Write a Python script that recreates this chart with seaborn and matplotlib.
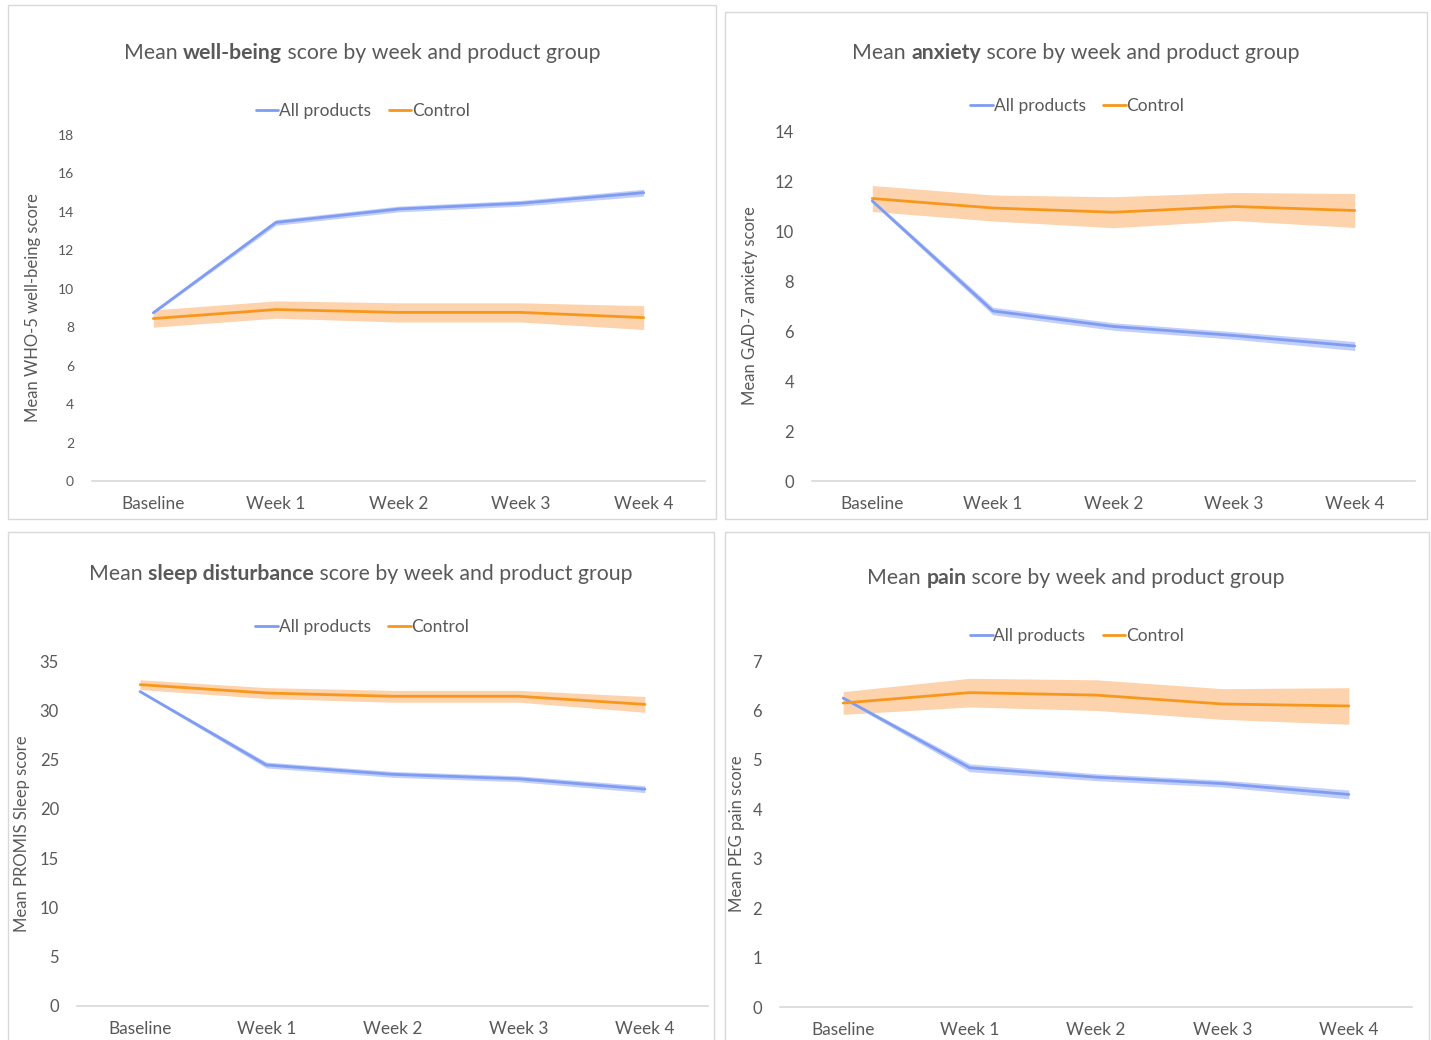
import numpy as np
import pandas as pd
import matplotlib
matplotlib.use("Agg")
import matplotlib.pyplot as plt
import seaborn as sns
from matplotlib.patches import Rectangle

sns.set_theme(style="white")
plt.rcParams['font.family'] = ['Lato', 'DejaVu Sans']

# ---------------- data ----------------
weeks = ["Baseline", "Week 1", "Week 2", "Week 3", "Week 4"]
groups = ["All products", "Control"]

wb_all = [8.75, 13.45, 14.15, 14.45, 15.0]
wb_all_ci = [0.06, 0.15, 0.15, 0.15, 0.18]
wb_ctrl = [8.45, 8.92, 8.77, 8.77, 8.5]
wb_ctrl_ci = [0.45, 0.45, 0.5, 0.5, 0.62]

anx_all = [11.2, 6.8, 6.18, 5.82, 5.4]
anx_all_ci = [0.08, 0.15, 0.15, 0.15, 0.18]
anx_ctrl = [11.3, 10.92, 10.75, 10.98, 10.82]
anx_ctrl_ci = [0.52, 0.52, 0.62, 0.56, 0.68]

sleep_all = [31.9, 24.45, 23.5, 23.05, 22.0]
sleep_all_ci = [0.12, 0.3, 0.3, 0.3, 0.35]
sleep_ctrl = [32.6, 31.75, 31.42, 31.42, 30.6]
sleep_ctrl_ci = [0.5, 0.55, 0.6, 0.6, 0.8]

pain_all = [6.25, 4.84, 4.65, 4.52, 4.3]
pain_all_ci = [0.03, 0.08, 0.07, 0.07, 0.09]
pain_ctrl = [6.15, 6.36, 6.31, 6.13, 6.09]
pain_ctrl_ci = [0.23, 0.29, 0.31, 0.31, 0.37]

panels = [
    dict(title=("Mean ", "well-being", " score by week and product group"),
         ylabel="Mean WHO-5 well-being score",
         all=wb_all, all_ci=wb_all_ci, ctrl=wb_ctrl, ctrl_ci=wb_ctrl_ci,
         ymax=18, ystep=2, tick_fs=10,
         box=(8, 5, 716, 519), ax=(92, 135, 705, 481),
         title_xy=(362, 53), leg=(0.442, 1.07), ylab_x=33),
    dict(title=("Mean ", "anxiety", " score by week and product group"),
         ylabel="Mean GAD-7 anxiety score",
         all=anx_all, all_ci=anx_all_ci, ctrl=anx_ctrl, ctrl_ci=anx_ctrl_ci,
         ymax=14, ystep=2, tick_fs=12,
         box=(725, 12, 1427, 519), ax=(812, 131, 1415, 481),
         title_xy=(1076, 53), leg=(0.44, 1.072), ylab_x=750),
    dict(title=("Mean ", "sleep disturbance", " score by week and product group"),
         ylabel="Mean PROMIS Sleep score",
         all=sleep_all, all_ci=sleep_all_ci, ctrl=sleep_ctrl, ctrl_ci=sleep_ctrl_ci,
         ymax=35, ystep=5, tick_fs=12,
         box=(8, 532, 714, 1045), ax=(77, 661, 708, 1006),
         title_xy=(361, 574), leg=(0.452, 1.099), ylab_x=22),
    dict(title=("Mean ", "pain", " score by week and product group"),
         ylabel="Mean PEG pain score",
         all=pain_all, all_ci=pain_all_ci, ctrl=pain_ctrl, ctrl_ci=pain_ctrl_ci,
         ymax=7, ystep=1, tick_fs=12,
         box=(725, 532, 1429, 1045), ax=(780, 661, 1412, 1007),
         title_xy=(1076, 578), leg=(0.47, 1.073), ylab_x=737),
]

W, H = 1431, 1040
BLUE = "#7f9cf3"
ORANGE = "#f7981c"
TXT = "#595959"

fig = plt.figure(figsize=(W / 100, H / 100), dpi=100)
fig.patch.set_facecolor("white")


def fx(px):
    return px / W


def fy(py):
    return 1 - py / H


renderer = fig.canvas.get_renderer()


def text_width(s, weight, size):
    t1 = fig.text(0, 0, "A" + s + "A", fontsize=size, fontweight=weight)
    t2 = fig.text(0, 0, "AA", fontsize=size, fontweight=weight)
    w = t1.get_window_extent(renderer).width - t2.get_window_extent(renderer).width
    t1.remove()
    t2.remove()
    return w


def rich_title(parts, cx, cy, size=15.3):
    weights = ["normal", "bold", "normal"]
    widths = [text_width(p, w, size) for p, w in zip(parts, weights)]
    total = sum(widths)
    x = cx - total / 2
    for p, w, wd in zip(parts, weights, widths):
        fig.text(fx(x), fy(cy), p, fontsize=size, fontweight=w, color=TXT,
                 ha="left", va="center")
        x += wd


for p in panels:
    # panel frame
    x0, y0, x1, y1 = p["box"]
    fig.patches.append(Rectangle((fx(x0), fy(y1)), fx(x1 - x0), (y1 - y0) / H,
                                 transform=fig.transFigure, fill=False,
                                 edgecolor="#d9d9d9", linewidth=1.0, zorder=0))
    l, t, r, b = p["ax"]
    ax = fig.add_axes([fx(l), fy(b), fx(r - l), (b - t) / H])
    ax.set_facecolor("none")

    df = pd.DataFrame({
        "week": weeks * 2,
        "group": [groups[0]] * len(weeks) + [groups[1]] * len(weeks),
        "score": list(p["all"]) + list(p["ctrl"]),
    })
    sns.lineplot(data=df, x="week", y="score", hue="group", sort=False,
                 palette={groups[0]: BLUE, groups[1]: ORANGE},
                 linewidth=2.0, ax=ax, estimator=None, errorbar=None)

    xs = np.arange(len(weeks))
    a = np.array(p["all"]); ac = np.array(p["all_ci"])
    c = np.array(p["ctrl"]); cc = np.array(p["ctrl_ci"])
    ax.fill_between(xs, c - cc, c + cc, color="#fdd3ad", linewidth=0, zorder=1)
    ax.fill_between(xs, a - ac, a + ac, color="#c3cffa", linewidth=0, zorder=1)
    for ln in ax.get_lines():
        ln.set_zorder(3)

    ax.set_xlim(-0.5, len(weeks) - 0.5)
    ax.set_ylim(0, p["ymax"])
    ax.set_yticks(np.arange(0, p["ymax"] + 0.01, p["ystep"]))
    ax.set_xlabel("")
    ax.set_ylabel("")
    ax.tick_params(axis="y", length=0, pad=13, labelsize=p["tick_fs"], labelcolor=TXT)
    ax.tick_params(axis="x", length=0, pad=11, labelsize=12.4, labelcolor=TXT)
    for s in ["top", "right", "left"]:
        ax.spines[s].set_visible(False)
    ax.spines["bottom"].set_color("#d9d9d9")
    ax.spines["bottom"].set_linewidth(1.2)
    ax.grid(False)

    sns.move_legend(ax, "center", bbox_to_anchor=p["leg"], ncol=2, frameon=False,
                    title=None, fontsize=12.5, handlelength=1.3, handletextpad=0.05,
                    columnspacing=1.0)
    for txt in ax.get_legend().get_texts():
        txt.set_color(TXT)

    fig.text(fx(p["ylab_x"]), fy((t + b) / 2), p["ylabel"], rotation=90,
             fontsize=12, color=TXT, ha="center", va="center")

    rich_title(p["title"], *p["title_xy"])

fig.savefig("out.png", dpi=100, facecolor="white")
